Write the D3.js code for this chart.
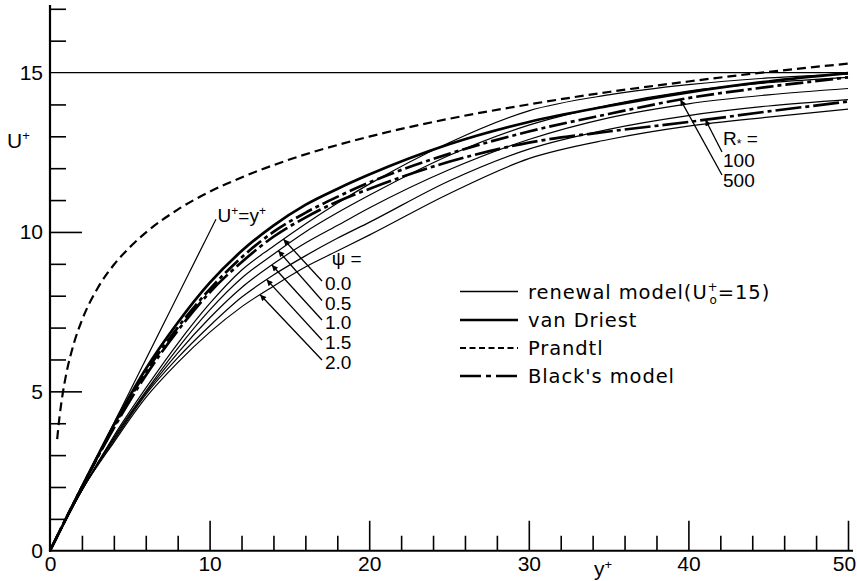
<!DOCTYPE html>
<html>
<head>
<meta charset="utf-8">
<script src="https://cdn.jsdelivr.net/npm/d3@7"></script>
<style>
  body { margin: 0; background: #fff; }
  svg { display: block; }
  text { font-family: "Liberation Sans", Arial, sans-serif; fill: #000; }
  .legend text { font-family: "DejaVu Sans", "Liberation Sans", sans-serif; }
</style>
</head>
<body>
<svg id="chart" width="857" height="581"></svg>
<script>
// ---- data -------------------------------------------------------------
// y+ grid shared by the model curves
const yPlus = [0, 2, 4, 6, 8, 10, 12, 14, 16, 18, 20, 25, 30, 35, 40, 45, 50];

// van Driest mixing-length profile
const vanDriest = [0, 2.0, 3.95, 5.7, 7.15, 8.4, 9.4, 10.2, 10.85, 11.35, 11.8, 12.75, 13.45, 13.95, 14.38, 14.72, 14.98];

// Black's model, two friction Reynolds numbers
const black100 = [0, 2.0, 3.85, 5.5, 6.9, 8.1, 9.05, 9.85, 10.45, 10.95, 11.35, 12.2, 12.8, 13.15, 13.45, 13.78, 14.09];
const black500 = [0, 2.0, 3.9, 5.6, 7.0, 8.2, 9.2, 10.0, 10.6, 11.1, 11.55, 12.45, 13.15, 13.7, 14.2, 14.55, 14.85];

// renewal model (U0+ = 15), one curve per psi
const psiLabels = ["0.0", "0.5", "1.0", "1.5", "2.0"];
const renewal00 = [0, 1.9, 3.6, 5.1, 6.5, 7.75, 8.8, 9.55, 10.25, 10.9, 11.5, 12.8, 13.8, 14.3, 14.62, 14.83, 14.95];
const renewal05 = [0, 1.9, 3.55, 5.0, 6.35, 7.55, 8.55, 9.3, 10.0, 10.6, 11.15, 12.4, 13.35, 13.98, 14.42, 14.68, 14.85];
const renewal10 = [0, 1.9, 3.5, 4.95, 6.2, 7.3, 8.25, 9.0, 9.65, 10.2, 10.75, 11.95, 12.9, 13.58, 14.02, 14.3, 14.5];
const renewal15 = [0, 1.9, 3.45, 4.9, 6.05, 7.05, 7.95, 8.65, 9.25, 9.8, 10.3, 11.6, 12.6, 13.22, 13.65, 13.95, 14.15];
const renewal20 = [0, 1.9, 3.4, 4.8, 5.9, 6.85, 7.65, 8.3, 8.9, 9.4, 9.9, 11.2, 12.3, 12.9, 13.32, 13.6, 13.85];
// y+ at which each psi arrow touches its curve
const psiArrowAt = [14.63, 14.31, 13.9, 13.58, 13.17];

// Prandtl logarithmic law
const prandtlY = [0.45, 0.6, 0.8, 1, 1.5, 2, 3, 4, 5, 6, 8, 10, 12, 15, 20, 25, 30, 35, 40, 45, 50];
const prandtlU = [3.5, 4.22, 4.94, 5.5, 6.51, 7.23, 8.25, 8.97, 9.52, 9.98, 10.7, 11.26, 11.71, 12.27, 12.99, 13.55, 14.0, 14.39, 14.72, 15.02, 15.28];

// viscous sublayer U+ = y+
const linearY = [0, 10.4];
const linearU = [0, 10.4];

// outer velocity level
const outerU = 15;

// R* annotations
const rLabels = ["100", "500"];
const rArrowAt = [41.07, 39.5];

// axes
const xMajor = [10, 20, 30, 40, 50];
const xMinor = [2, 4, 6, 8, 12, 14, 16, 18, 22, 24, 26, 28, 32, 34, 36, 38, 42, 44, 46, 48];
const xTickLabels = [0, 10, 20, 30, 40, 50];
const yMajor = [5, 10];
const yMinor = [1, 2, 3, 4, 6, 7, 8, 9, 11, 12, 13, 14, 16, 17];
const yTickLabels = [0, 5, 10, 15];

// ---- scales -----------------------------------------------------------
const svg = d3.select("#chart");
const x = d3.scaleLinear().domain([0, 50]).range([50, 848]);
const y = d3.scaleLinear().domain([0, 15]).range([550.75, 72.55]);
const yTop = 17.12;

const defs = svg.append("defs");
defs.append("marker")
  .attr("id", "head")
  .attr("viewBox", "0 0 10 10")
  .attr("refX", 10).attr("refY", 5)
  .attr("markerWidth", 9).attr("markerHeight", 6)
  .attr("markerUnits", "userSpaceOnUse")
  .attr("orient", "auto")
  .append("path").attr("d", "M0,0L10,5L0,10Z").attr("fill", "#000");

// ---- axes -------------------------------------------------------------
const gx = svg.append("g").attr("transform", `translate(0,${y(0)})`);
const styleTicks = g => {
  g.select(".domain").remove();
  g.selectAll(".tick line").attr("stroke", "#000").attr("stroke-width", 1.6);
};
gx.append("g").call(d3.axisBottom(x).tickValues(xMajor).tickSize(-30).tickFormat("")).call(styleTicks);
gx.append("g").call(d3.axisBottom(x).tickValues(xMinor).tickSize(-15).tickFormat("")).call(styleTicks);
gx.append("g").call(d3.axisBottom(x).tickValues(xTickLabels).tickSize(0).tickPadding(5).tickFormat(d3.format("d")))
  .call(g => g.select(".domain").remove())
  .call(g => g.selectAll("text").attr("font-size", 21).attr("font-family", "Liberation Sans, Arial, sans-serif"))
  .call(g => g.selectAll("text").filter(d => d === 50).attr("dx", -4));

const gy = svg.append("g").attr("transform", `translate(${x(0)},0)`);
gy.append("g").call(d3.axisLeft(y).tickValues(yMajor).tickSize(-32).tickFormat("")).call(styleTicks);
gy.append("g").call(d3.axisLeft(y).tickValues(yMinor).tickSize(-16).tickFormat("")).call(styleTicks);
gy.append("g").call(d3.axisLeft(y).tickValues(yTickLabels).tickSize(0).tickPadding(7).tickFormat(d3.format("d")))
  .call(g => g.select(".domain").remove())
  .call(g => g.selectAll("text").attr("font-size", 21).attr("font-family", "Liberation Sans, Arial, sans-serif"));

// axis lines
svg.append("line")
  .attr("x1", x(0) - 1).attr("x2", x(50) + 5)
  .attr("y1", y(0)).attr("y2", y(0))
  .attr("stroke", "#000").attr("stroke-width", 2.2);
svg.append("line")
  .attr("x1", x(0)).attr("x2", x(0))
  .attr("y1", y(0) + 1).attr("y2", y(yTop))
  .attr("stroke", "#000").attr("stroke-width", 2.2);

// axis titles
const uLab = svg.append("text").attr("x", 7).attr("y", 148).attr("font-size", 21);
uLab.append("tspan").text("U");
uLab.append("tspan").attr("font-size", 13).attr("dy", -8).text("+");

const yLab = svg.append("text").attr("x", 594).attr("y", 576).attr("font-size", 21);
yLab.append("tspan").text("y");
yLab.append("tspan").attr("font-size", 13).attr("dy", -7).text("+");

// ---- curves -----------------------------------------------------------
const line = d3.line().x(d => x(d[0])).y(d => y(d[1])).curve(d3.curveMonotoneX);
const pairs = (xs, us) => xs.map((v, i) => [v, us[i]]);
const plot = (xs, us, width, dash) => svg.append("path")
  .attr("d", line(pairs(xs, us)))
  .attr("fill", "none")
  .attr("stroke", "#000")
  .attr("stroke-width", width)
  .attr("stroke-linejoin", "round")
  .attr("stroke-dasharray", dash || null);

// outer level U+ = 15
svg.append("line")
  .attr("x1", x(0)).attr("x2", x(50))
  .attr("y1", y(outerU)).attr("y2", y(outerU))
  .attr("stroke", "#000").attr("stroke-width", 1.3);

const renewal = [renewal00, renewal05, renewal10, renewal15, renewal20];
renewal.forEach(r => plot(yPlus, r, 1.2));
plot(linearY, linearU, 1.2);
plot(prandtlY, prandtlU, 2.2, "9,5");
plot(yPlus, black100, 2.7, "26,4,4,4");
plot(yPlus, black500, 2.7, "18,4,4,4");
plot(yPlus, vanDriest, 2.7);

// value of a curve at a given y+ (linear between grid points)
const at = (us, v) => {
  const i = Math.min(d3.bisectRight(yPlus, v), yPlus.length - 1);
  const t = (v - yPlus[i - 1]) / (yPlus[i] - yPlus[i - 1]);
  return us[i - 1] + t * (us[i] - us[i - 1]);
};

// ---- annotations ------------------------------------------------------
const textSize = 19;
// U+ = y+
const lin = svg.append("text").attr("x", x(10.5)).attr("y", y(10.4) + 3).attr("font-size", textSize);
lin.append("tspan").text("U");
lin.append("tspan").attr("font-size", 12).attr("dy", -7).text("+");
lin.append("tspan").attr("dy", 7).text("=y");
lin.append("tspan").attr("font-size", 12).attr("dy", -7).text("+");

// psi labels with arrows
svg.append("text").attr("x", x(17.65)).attr("y", 265).attr("font-size", textSize).text("ψ =");
const psiBase = [290, 309.5, 329, 349, 369];
renewal.forEach((r, i) => {
  const tx = x(psiArrowAt[i]), ty = y(at(r, psiArrowAt[i]));
  svg.append("line")
    .attr("x1", 322).attr("y1", psiBase[i] - 9)
    .attr("x2", tx).attr("y2", ty)
    .attr("stroke", "#000").attr("stroke-width", 1.3)
    .attr("marker-end", "url(#head)");
  svg.append("text").attr("x", 325).attr("y", psiBase[i]).attr("font-size", textSize).text(psiLabels[i]);
});

// R* labels with arrows
const rs = svg.append("text").attr("x", 723).attr("y", 145).attr("font-size", textSize);
rs.append("tspan").text("R");
rs.append("tspan").attr("font-size", 12).attr("dy", 3).text("*");
rs.append("tspan").attr("dy", -3).text(" =");
const rBase = [167, 187];
const rTail = [152, 175];
[black100, black500].forEach((b, i) => {
  svg.append("line")
    .attr("x1", 722).attr("y1", rTail[i])
    .attr("x2", x(rArrowAt[i])).attr("y2", y(at(b, rArrowAt[i])))
    .attr("stroke", "#000").attr("stroke-width", 1.3)
    .attr("marker-end", "url(#head)");
  svg.append("text").attr("x", 723).attr("y", rBase[i]).attr("font-size", textSize).text(rLabels[i]);
});

// ---- legend -----------------------------------------------------------
const legend = [
  { name: "renewal", w: 1.4, dash: null, y: 291.5 },
  { name: "van Driest", w: 2.5, dash: null, y: 320 },
  { name: "Prandtl", w: 2, dash: "6,3.5", y: 348 },
  { name: "Black's model", w: 2.5, dash: "21,5,5,5", y: 376 }
];
const gl = svg.append("g").attr("class", "legend");
legend.forEach(d => {
  gl.append("line")
    .attr("x1", 460).attr("x2", 518).attr("y1", d.y).attr("y2", d.y)
    .attr("stroke", "#000").attr("stroke-width", d.w).attr("stroke-dasharray", d.dash);
  const t = gl.append("text").attr("x", 528).attr("y", d.y + 7)
    .attr("font-size", 19.5).attr("letter-spacing", 0.9);
  if (d.name === "renewal") {
    t.append("tspan").text("renewal model(U");
    t.append("tspan").attr("font-size", 12).attr("dy", -8).text("+");
    t.append("tspan").attr("font-size", 12).attr("dx", -9).attr("dy", 13).text("o");
    t.append("tspan").attr("dy", -5).text("=15)");
  } else {
    t.text(d.name);
  }
});
</script>
</body>
</html>
